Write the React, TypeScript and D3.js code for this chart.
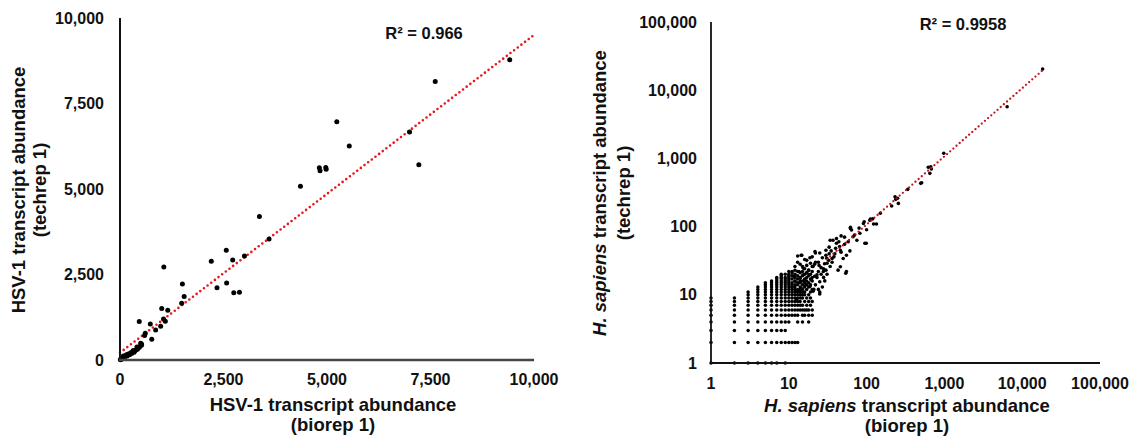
import React from "react";
import * as d3 from "d3";

// ---------- Left panel: HSV-1 ----------
const hsvTicks = [0, 2500, 5000, 7500, 10000];
const hsvPoints: [number, number][] = [
  [9414, 8778], [7614, 8143], [5237, 6970], [6994, 6667], [5538, 6256], [7218, 5709],
  [4815, 5621], [4832, 5533], [4970, 5630], [4980, 5580], [4358, 5083], [3368, 4194],
  [3600, 3539], [2567, 3206], [3006, 3040], [2205, 2884], [2722, 2923], [1059, 2718],
  [1507, 2219], [2575, 2248], [2343, 2111], [1550, 1857], [2748, 1965], [2885, 1984],
  [1490, 1662], [1008, 1505], [1154, 1457], [465, 1124], [732, 1056], [1051, 1202],
  [1094, 1134], [982, 987], [861, 880], [767, 606], [594, 714], [611, 782],
  [20, 30], [40, 70], [60, 40], [81, 117], [100, 90], [145, 146], [170, 120], [201, 175],
  [230, 150], [258, 214], [280, 190], [306, 244], [340, 230], [362, 273], [390, 300],
  [419, 312], [440, 350], [467, 370], [490, 410], [523, 439], [499, 487], [10, 10], [30, 20],
  [120, 100], [180, 160], [320, 280], [410, 380], [520, 470],
];
const hsvTrend = { intercept: 213, slope: 0.929 };
const hsvR2 = "0.966";

// ---------- Right panel: H. sapiens ----------
const humanTicks = [1, 10, 100, 1000, 10000, 100000];
const humanGrid: { x: number; ys: number[] }[] = [
  { x: 1, ys: [1, 2, 3, 4, 5, 6, 7, 8, 9] },
  { x: 2, ys: [1, 2, 3, 4, 5, 6, 7, 8, 9] },
  { x: 3, ys: [1, 2, 3, 4, 5, 6, 7, 8, 9, 10, 11] },
  { x: 4, ys: [1, 2, 3, 4, 5, 6, 7, 8, 9, 10, 11, 12, 13] },
  { x: 5, ys: [1, 2, 3, 4, 5, 6, 7, 8, 9, 10, 11, 12, 13, 14, 15] },
  { x: 6, ys: [1, 2, 3, 4, 5, 6, 7, 8, 9, 10, 11, 12, 13, 14, 15, 16] },
  { x: 7, ys: [1, 2, 3, 4, 5, 6, 7, 8, 9, 10, 11, 12, 13, 14, 15, 16, 17, 18] },
  { x: 8, ys: [2, 3, 4, 5, 6, 7, 8, 9, 10, 11, 12, 13, 14, 15, 16, 17, 18, 19, 20] },
  { x: 9, ys: [1, 2, 3, 4, 5, 6, 7, 8, 9, 10, 11, 12, 13, 14, 15, 16, 17, 18] },
  { x: 10, ys: [2, 4, 5, 6, 7, 8, 9, 10, 11, 12, 13, 14, 15, 16, 18, 20, 22] },
  { x: 11, ys: [2, 5, 6, 7, 8, 9, 10, 11, 12, 13, 14, 15, 17, 19, 21] },
  { x: 12, ys: [2, 5, 6, 7, 8, 9, 10, 11, 12, 13, 14, 16, 18, 20, 23] },
  { x: 13, ys: [2, 4, 5, 6, 7, 8, 9, 10, 11, 12, 14, 15, 17, 19, 22] },
  { x: 14, ys: [6, 7, 8, 9, 10, 11, 12, 13, 15, 16, 18, 21] },
  { x: 15, ys: [4, 5, 6, 7, 9, 10, 11, 12, 14, 16, 19, 22] },
  { x: 16, ys: [5, 6, 8, 10, 11, 13, 15, 17, 20, 24] },
  { x: 17, ys: [6, 7, 9, 12, 14, 16, 18, 21] },
  { x: 18, ys: [4, 5, 6, 8, 10, 13, 15, 19, 23] },
  { x: 19, ys: [7, 9, 11, 14, 17, 20] },
  { x: 20, ys: [5, 6, 8, 12, 16, 18, 22, 26] },
];
const humanScatter: [number, number][] = [
  [13, 37], [18.7, 35], [12, 26], [13.5, 22], [15.4, 24.5], [18, 23], [20.5, 26], [23, 19.7],
  [20.5, 11.3], [18.7, 13.2], [16, 16.5], [14, 17.5], [12, 15.8], [11, 13], [12.6, 11.4],
  [14.5, 12.5], [16.5, 13.9], [19.5, 16.5], [21.5, 18.7], [12.6, 8.7], [11.7, 18.5],
  [15.4, 19.7], [18.3, 19.7], [21.5, 28], [24, 22], [26, 25], [17, 27], [14, 28], [11, 22],
  [10, 17], [10, 19], [9, 20], [13, 30], [16, 33], [20, 36], [19, 29], [15, 26], [17, 21],
  [22, 14], [24, 12], [27, 13], [29, 16], [26, 20], [28, 24], [24, 30], [30, 38], [33, 40],
  [36, 34], [31, 20],
  [22, 41], [25, 41], [17, 32], [24.5, 27], [27, 35], [28.8, 28.5], [30, 23], [27.8, 22],
  [34, 26], [32.5, 32], [35, 44], [34, 63], [41, 57], [45, 51], [39, 40], [55, 38], [50, 34],
  [61, 44], [58, 60], [67, 71], [75, 63], [64, 89], [82, 80], [95, 57], [91, 111], [110, 124],
  [55, 22], [43, 23], [25, 15.5], [25, 11], [21, 12], [23, 18], [22, 30], [28, 18], [31, 29],
  [36, 30], [38, 36], [40, 48], [47, 42], [46, 45], [52, 55], [54, 20.7], [46, 25.8], [37, 63],
  [41, 67], [47, 73], [62, 98], [93, 118], [112, 129], [134, 109], [123, 109], [99, 57],
  [62, 94], [150, 157], [232, 274], [256, 219], [237, 251], [338, 352], [496, 431], [510, 440],
  [620, 740], [668, 755], [650, 604], [680, 700], [982, 1188], [6400, 5730], [18300, 20400],
  [14.7, 38], [21.7, 43], [30.7, 34.3], [14.4, 38], [25, 10.3], [30, 45], [33, 50], [44, 60],
  [52, 70], [70, 75], [80, 95], [100, 90], [120, 130], [210, 200], [250, 260],
];
const humanTrend = { slope: 1.07, from: 31, to: 19000 };
const humanR2 = "0.9958";

const FONT = "'Liberation Sans', Arial, Helvetica, sans-serif";
const fmt = d3.format(",");

export default function App() {
  const W = 1138;
  const H = 439;

  const xL = d3.scaleLinear().domain([0, 10000]).range([120, 534]);
  const yL = d3.scaleLinear().domain([0, 10000]).range([360, 18]);
  const xR = d3.scaleLog().domain([1, 100000]).range([711, 1100]);
  const yR = d3.scaleLog().domain([1, 100000]).range([363, 22]);

  const line = d3.line<[number, number]>();
  const leftTrend = line([
    [xL(0), yL(hsvTrend.intercept)],
    [xL(10000), yL(hsvTrend.intercept + hsvTrend.slope * 10000)],
  ]);
  const rightTrend = line([
    [xR(humanTrend.from), yR(humanTrend.from * humanTrend.slope)],
    [xR(humanTrend.to), yR(humanTrend.to * humanTrend.slope)],
  ]);

  const humanGridPts: [number, number][] = humanGrid.flatMap((c) =>
    c.ys.map((y) => [c.x, y] as [number, number])
  );

  const tickStyle = { fontFamily: FONT, fontWeight: 700, fontSize: 16, fill: "#111" } as const;
  const titleStyle = { fontFamily: FONT, fontWeight: 700, fontSize: 18.5, fill: "#111" } as const;

  return (
    <div style={{ position: "absolute", left: 0, top: 0 }}>
      <svg width={W} height={H} style={{ display: "block", background: "#fff" }}>
        {/* ---------- LEFT ---------- */}
        <g>
          <path d={leftTrend ?? ""} stroke="#e8161b" strokeWidth={2.6} strokeDasharray="0 4.6" strokeLinecap="round" fill="none" />
          {hsvPoints.map(([x, y], i) => (
            <circle key={i} cx={xL(x)} cy={yL(y)} r={2.5} fill="#000" />
          ))}
          <line x1={xL(0)} x2={xL(0)} y1={yL(0)} y2={yL(10000)} stroke="#111" strokeWidth={2} />
          <line x1={xL(0) - 1} x2={xL(10000)} y1={yL(0)} y2={yL(0)} stroke="#454545" strokeWidth={2.5} />
          {hsvTicks.map((t) => (
            <text key={"ly" + t} x={104} y={yL(t)} dy="0.35em" textAnchor="end" style={tickStyle}>
              {fmt(t)}
            </text>
          ))}
          {hsvTicks.map((t) => (
            <text key={"lx" + t} x={xL(t)} y={385} textAnchor="middle" style={tickStyle}>
              {fmt(t)}
            </text>
          ))}
          <text x={333} y={411} textAnchor="middle" style={titleStyle}>HSV-1 transcript abundance</text>
          <text x={333} y={431} textAnchor="middle" style={titleStyle}>(biorep 1)</text>
          <g transform="translate(25,190) rotate(-90)">
            <text x={0} y={0} textAnchor="middle" style={titleStyle}>HSV-1 transcript abundance</text>
          </g>
          <g transform="translate(46,190) rotate(-90)">
            <text x={0} y={0} textAnchor="middle" style={titleStyle}>(techrep 1)</text>
          </g>
          <text x={424} y={39} textAnchor="middle" style={{ ...tickStyle, fontSize: 16.5 }}>
            {"R² = " + hsvR2}
          </text>
        </g>

        {/* ---------- RIGHT ---------- */}
        <g>
          {humanGridPts.map(([x, y], i) => (
            <circle key={"g" + i} cx={xR(x)} cy={yR(y)} r={1.75} fill="#000" />
          ))}
          {humanScatter.map(([x, y], i) => (
            <circle key={"s" + i} cx={xR(x)} cy={yR(y)} r={1.8} fill="#000" />
          ))}
          <path d={rightTrend ?? ""} stroke="#c0141c" strokeWidth={2.3} strokeDasharray="0 4.2" strokeLinecap="round" fill="none" />
          <line x1={xR(1)} x2={xR(1)} y1={yR(1)} y2={yR(100000)} stroke="#111" strokeWidth={1.8} />
          <line x1={xR(1)} x2={xR(100000)} y1={yR(1)} y2={yR(1)} stroke="#111" strokeWidth={1.8} />
          {humanTicks.map((t) => (
            <text key={"ry" + t} x={697} y={yR(t)} dy="0.35em" textAnchor="end" style={tickStyle}>
              {fmt(t)}
            </text>
          ))}
          {humanTicks.map((t) => (
            <text key={"rx" + t} x={xR(t)} y={389} textAnchor="middle" style={tickStyle}>
              {fmt(t)}
            </text>
          ))}
          <text x={907} y={412} textAnchor="middle" style={titleStyle}>
            <tspan fontStyle="italic">H. sapiens</tspan> transcript abundance
          </text>
          <text x={907} y={432} textAnchor="middle" style={titleStyle}>(biorep 1)</text>
          <g transform="translate(606,193) rotate(-90)">
            <text x={0} y={0} textAnchor="middle" style={titleStyle}>
              <tspan fontStyle="italic">H. sapiens</tspan> transcript abundance
            </text>
          </g>
          <g transform="translate(630,193) rotate(-90)">
            <text x={0} y={0} textAnchor="middle" style={titleStyle}>(techrep 1)</text>
          </g>
          <text x={963} y={30} textAnchor="middle" style={{ ...tickStyle, fontSize: 16.5 }}>
            {"R² = " + humanR2}
          </text>
        </g>
      </svg>
    </div>
  );
}
